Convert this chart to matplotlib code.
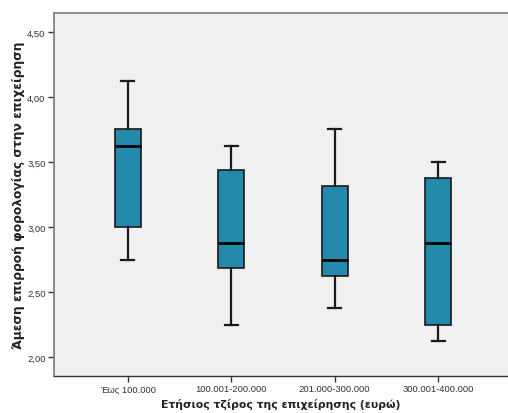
import matplotlib
matplotlib.use("Agg")
import matplotlib.pyplot as plt

# Turnover categories and five-number summaries
categories = ["Έως 100.000", "100.001-200.000", "201.000-300.000", "300.001-400.000"]
whisker_low = [2.75, 2.25, 2.375, 2.125]
q1 = [3.0, 2.6875, 2.625, 2.25]
median = [3.625, 2.875, 2.75, 2.875]
q3 = [3.75, 3.4375, 3.3125, 3.375]
whisker_high = [4.125, 3.625, 3.75, 3.5]

y_ticks = [2.0, 2.5, 3.0, 3.5, 4.0, 4.5]
y_tick_labels = ["2,00", "2,50", "3,00", "3,50", "4,00", "4,50"]

W, H = 508, 414
fig = plt.figure(figsize=(W / 100, H / 100), dpi=100)
fig.patch.set_facecolor("white")
ax = fig.add_axes([54 / W, 37 / H, (W - 54) / W, (377 - 14) / H])
ax.set_facecolor("#f0f0f0")

stats = []
for i, c in enumerate(categories):
    stats.append(dict(label=c, whislo=whisker_low[i], q1=q1[i], med=median[i],
                      q3=q3[i], whishi=whisker_high[i], fliers=[]))

positions = list(range(1, len(categories) + 1))
ax.bxp(stats, positions=positions, widths=0.25, patch_artist=True,
       showfliers=False,
       boxprops=dict(facecolor="#248aab", edgecolor="#1a1a1a", linewidth=1.2),
       medianprops=dict(color="black", linewidth=2.0),
       whiskerprops=dict(color="#1a1a1a", linewidth=1.6),
       capprops=dict(color="#1a1a1a", linewidth=1.6),
       capwidths=0.125)

ax.set_xlim(0.285, 4.676)
ax.set_ylim(1.854, 4.646)
tick_font = dict(family="Liberation Sans", size=6.8, color="#333333")
ax.set_yticks(y_ticks)
ax.set_yticklabels(y_tick_labels, **tick_font)
ax.set_xticks(positions)
ax.set_xticklabels(categories, **tick_font)
ax.tick_params(axis="both", length=4, width=1, color="#333333", pad=2)

ax.spines["right"].set_visible(False)
ax.spines["top"].set_color("#7a7a7a")
ax.spines["top"].set_linewidth(1.2)
ax.spines["left"].set_color("#7a7a7a")
ax.spines["left"].set_linewidth(1.2)
ax.spines["bottom"].set_color("#333333")
ax.spines["bottom"].set_linewidth(1.0)

ax.set_xlabel("Ετήσιος τζίρος της επιχείρησης (ευρώ)", fontsize=7.8,
              fontweight="bold", color="#222222")
ax.set_ylabel("Άμεση επιρροή φορολογίας στην επιχείρηση", fontsize=8.8,
              fontweight="bold", color="#222222")
ax.xaxis.set_label_coords(0.5, -0.06)
ax.yaxis.set_label_coords(-0.064, 0.5)

fig.savefig("out.png", dpi=100)
